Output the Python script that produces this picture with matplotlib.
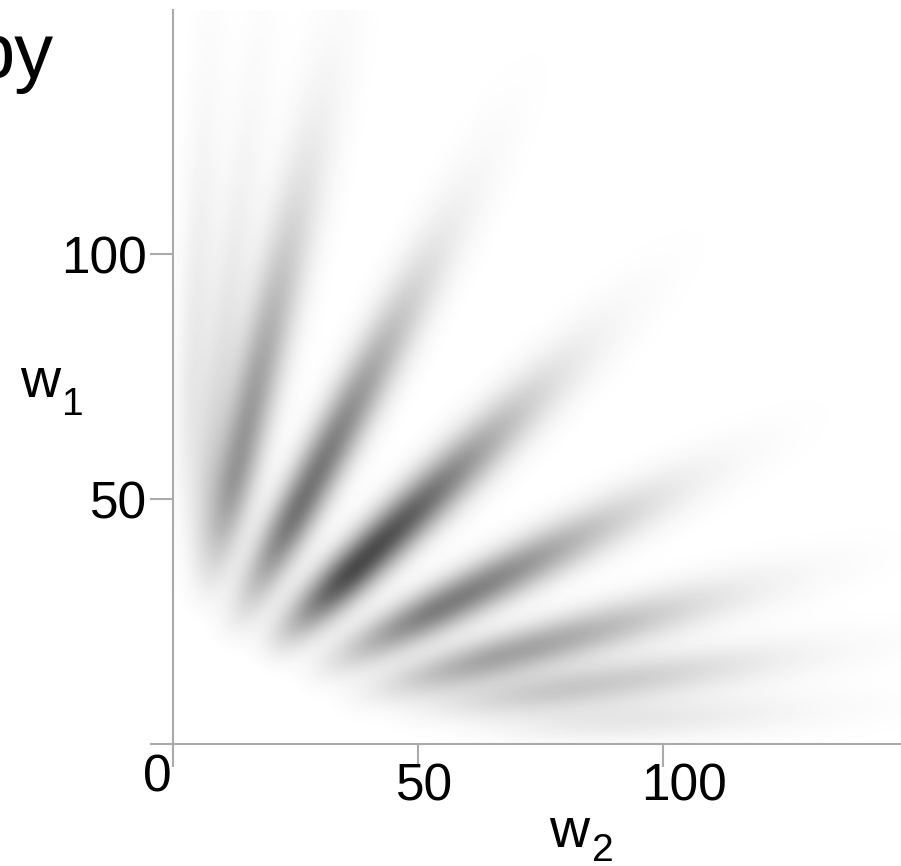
import numpy as np
import matplotlib
matplotlib.use("Agg")
import matplotlib.pyplot as plt
from matplotlib.colors import LinearSegmentedColormap
from matplotlib.transforms import ScaledTranslation

plt.rcParams['font.family'] = ['Liberation Sans', 'DejaVu Sans']

# rays of the density (angle in degrees from the w2 axis,
# radii in data units along the ray, darkness 0..1, half width in data units)
ray_angle = [87, 83, 77, 62, 44, 27, 15, 8, 3]
ray_dark = [0.10, 0.14, 0.50, 0.66, 0.86, 0.62, 0.44, 0.26, 0.11]
ray_start = [35, 28, 24, 20, 22, 26, 31, 40, 52]
ray_peak = [75, 62, 58, 55, 52, 62, 70, 82, 92]
ray_fade = [165, 160, 150, 135, 125, 130, 140, 150, 155]
ray_width = [2.0, 2.2, 3.0, 3.1, 3.3, 3.1, 2.9, 2.6, 2.4]

xticks = [0, 50, 100]
xtick_labels = ['', '50', '100']
yticks = [0, 50, 100]
ytick_labels = ['', '50', '100']

grid = np.arange(0, 150) + 0.5
W2, W1 = np.meshgrid(grid, grid)
r = np.hypot(W2, W1)
theta = np.arctan2(W1, W2)

dens = np.zeros_like(r)
for a, d, s, p, f, w in zip(ray_angle, ray_dark, ray_start, ray_peak, ray_fade, ray_width):
    perp = r * np.sin(theta - np.radians(a))
    along = r * np.cos(theta - np.radians(a))
    sig = w * (0.8 + 0.004 * along)
    side = np.exp(-0.5 * (perp / sig) ** 2)
    rise = np.clip((along - s) / (p - s), 0, 1)
    rise = rise * rise * (3 - 2 * rise)
    fall = np.exp(-3 * (np.clip(along - p, 0, None) / (f - p)) ** 2)
    dens += d * side * rise * fall
dens = np.clip(dens, 0, 1)

cmap = LinearSegmentedColormap.from_list('ink', ['#ffffff', '#2b2b2b'])

fig = plt.figure(figsize=(9.01, 8.66), dpi=100)
ax = fig.add_axes([173 / 901, 122 / 866, 728 / 901, 734 / 866])
ax.imshow(dens, cmap=cmap, vmin=0, vmax=1, origin='lower',
          extent=[0, 150, 0, 150], interpolation='bilinear', aspect='auto')
ax.set_xlim(0, 148.6)
ax.set_ylim(0, 149.8)

gray = '#aaaaaa'
for side in ['top', 'right']:
    ax.spines[side].set_visible(False)
for side in ['left', 'bottom']:
    ax.spines[side].set_color(gray)
    ax.spines[side].set_linewidth(1.5)

ax.set_xticks(xticks)
ax.set_xticklabels(xtick_labels)
ax.set_yticks(yticks)
ax.set_yticklabels(ytick_labels)
ax.tick_params(axis='both', direction='out', length=16.5, width=1.5, color=gray,
               labelsize=37, labelcolor='black')
ax.tick_params(axis='x', pad=-3)
ax.tick_params(axis='y', pad=2)
shift = ScaledTranslation(-0.22, 0, fig.dpi_scale_trans)
for lab in ax.get_xticklabels():
    lab.set_horizontalalignment('left')
    lab.set_transform(lab.get_transform() + shift)

ax.text(0, 0, '0', fontsize=37, ha='right', va='top',
        transform=ax.transData + ScaledTranslation(-0.01, -0.09, fig.dpi_scale_trans))

# axis labels
fig.text(20 / 901, 1 - 397 / 866, 'w', fontsize=40, ha='left', va='baseline')
fig.text(62 / 901, 1 - 415 / 866, '1', fontsize=28, ha='left', va='baseline')
fig.text(549 / 901, 1 - 847 / 866, 'w', fontsize=40, ha='left', va='baseline')
fig.text(592 / 901, 1 - 861 / 866, '2', fontsize=28, ha='left', va='baseline')

fig.text(54 / 901, 1 - 78 / 866, 'by', fontsize=56, ha='right', va='baseline')

fig.savefig('out.png', dpi=100)
